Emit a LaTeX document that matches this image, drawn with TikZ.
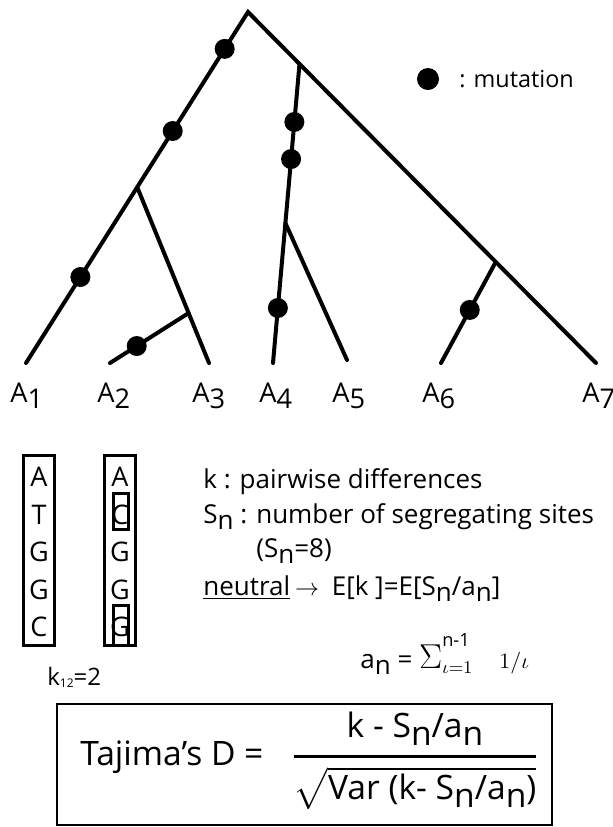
\documentclass[tikz,border=0pt]{standalone}
\usepackage{amsmath}
\usepackage{fontspec}
\setmainfont{Open Sans}
\usetikzlibrary{calc}

\newcommand{\lo}[1]{\raisebox{-0.45ex}{#1}}

\begin{document}
\begin{tikzpicture}[x=0.5pt, y=-0.5pt,
  br/.style={line width=2pt, line cap=round},
  mut/.style={circle, fill=black, inner sep=0pt, minimum size=10pt},
  leaf/.style={anchor=base west, inner sep=0pt, font=\fontsize{13.6}{16}\selectfont},
  txt/.style={anchor=base west, inner sep=0pt, font=\fontsize{13}{15}\selectfont},
  nt/.style={inner sep=0pt, font=\fontsize{13.5}{15}\selectfont},
  seqbox/.style={draw, line width=1.5pt, minimum width=15.5pt, minimum height=95pt, inner sep=0pt},
  hit/.style={draw, line width=1.5pt, minimum width=7.5pt, inner sep=0pt}]

\useasboundingbox (0,0) rectangle (613,827);

% tree
\coordinate (R)  at (248,12);
\coordinate (t1) at (26,363);
\coordinate (t2) at (110,363);
\coordinate (t3) at (209,363);
\coordinate (t4) at (273,363);
\coordinate (t5) at (347,360);
\coordinate (t6) at (441,363);
\coordinate (t7) at (596,363);
\coordinate (N2) at ($(R)!0.499!(t1)$);
\coordinate (N1) at ($(R)!0.148!(t7)$);
\coordinate (N4) at ($(R)!0.712!(t7)$);
\coordinate (N3) at ($(N1)!0.532!(t4)$);
\coordinate (N5) at ($(N2)!0.716!(t3)$);

\draw[br] (t1) -- (R) -- (t7);
\draw[br] (N2) -- (t3);
\draw[br] (N5) -- (t2);
\draw[br] (N1) -- (t4);
\draw[br] (N3) -- (t5);
\draw[br] (N4) -- (t6);

% mutations
\node[mut] (m1) at ($(R)!0.105!(t1)$) {};
\node[mut] (m2) at ($(R)!0.339!(t1)$) {};
\node[mut] (m3) at ($(R)!0.755!(t1)$) {};
\node[mut] (m4) at ($(N1)!0.194!(t4)$) {};
\node[mut] (m5) at ($(N1)!0.318!(t4)$) {};
\node[mut] (m6) at ($(N1)!0.816!(t4)$) {};
\node[mut] (m7) at ($(N5)!0.66!(t2)$) {};
\node[mut] (m8) at ($(N4)!0.475!(t6)$) {};

% legend
\node[mut, minimum size=11pt] (key) at (428,79) {};
\node[anchor=west, inner sep=0pt, font=\fontsize{11.7}{14}\selectfont] (keytxt) at (459,79) {: mutation};

% leaves
\node[leaf] (A1) at (10,402)  {A\lo{1}};
\node[leaf] (A2) at (97,402)  {A\lo{2}};
\node[leaf] (A3) at (192,402) {A\lo{3}};
\node[leaf] (A4) at (259,402) {A\lo{4}};
\node[leaf] (A5) at (332,402) {A\lo{5}};
\node[leaf] (A6) at (422,402) {A\lo{6}};
\node[leaf] (A7) at (582,402) {A\lo{7}};

% sequences
\node[seqbox] (s1) at (38.5,550) {};
\node[seqbox] (s2) at (120,550) {};
\foreach \b [count=\i] in {A,T,G,G,C}
  \node[nt] (a\i) at (39,{439.5+37.5*\i}) {\b};
\foreach \b [count=\i] in {A,C,G,G,G}
  \node[nt] (b\i) at (120,{439.5+37.5*\i}) {\b};
\node[hit, minimum height=18pt] (h2) at (120.5,511) {};
\node[hit, minimum height=20pt] (h5) at (120.5,625) {};
\node[anchor=base west, inner sep=0pt, font=\fontsize{12}{14}\selectfont] (k12) at (47,685)
  {k{\fontsize{6}{7}\selectfont\lo{12}}=2};

% definitions
\node[txt] (kdef) at (203,488) {k : pairwise differences};
\node[txt] (sdef) at (203,523) {S\lo{n} : number of segregating sites};
\node[txt] (sval) at (256,557) {(S\lo{n}=8)};
\node[txt] (neu)  at (203,595) {\underline{neutral}};
\node[txt] (arr)  at ([xshift=2pt]neu.base east) {$\rightarrow$};
\node[txt] (ek)   at ([xshift=6pt]arr.base east) {E[k ]=E[S\lo{n}/a\lo{n}]};
\node[txt] (an)   at (360,668) {a\lo{n} = $\mathop{\text{\fontsize{16}{18}\selectfont$\Sigma$}}\nolimits^{\text{\raisebox{2pt}{n-1}}}_{\iota=1}$\quad{\fontsize{11}{12}\selectfont$1/\iota$}};

% Tajima's D
\draw[line width=1.2pt] (57,704) rectangle (552,825);
\node[anchor=base west, inner sep=0pt, font=\fontsize{16.8}{20}\selectfont] (D) at (80,765) {Tajima's D =};
\node[anchor=base, inner sep=0pt, font=\fontsize{16.8}{20}\selectfont] (frac) at (415,765)
  {$\genfrac{}{}{1.5pt}{0}{\text{k - S\lo{n}/a\lo{n}}}{\sqrt{\text{Var (k- S\lo{n}/a\lo{n})}}}$};

\end{tikzpicture}
\end{document}
